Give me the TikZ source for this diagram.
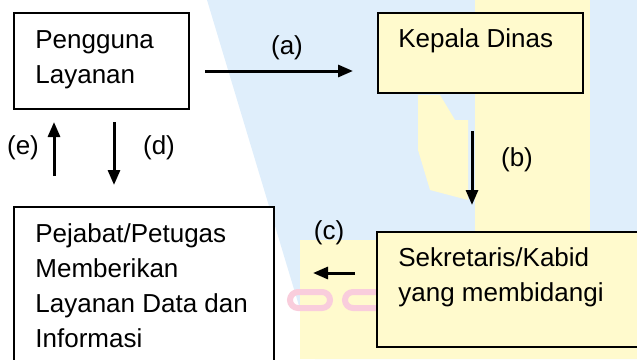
\documentclass[tikz,border=0pt]{standalone}
\usepackage{fontspec}
\setmainfont{Liberation Sans}
\usetikzlibrary{arrows.meta}
\definecolor{wmblue}{HTML}{DFEEFB}
\definecolor{wmyellow}{HTML}{FFFACD}
\definecolor{wmpink}{HTML}{F9CDDC}
\begin{document}
\begin{tikzpicture}
[x=.5pt,y=-.5pt, box/.style={draw,line width=1pt,anchor=north west,inner sep=0pt},
txt/.style={anchor=base west,inner sep=0pt,align=left,font=\fontsize{13}{17.5}\selectfont},
lab/.style={inner sep=0pt,font=\fontsize{13}{17.5}\selectfont},
arr/.style={line width=1.5pt,-{Triangle[length=7.5pt,width=6pt]}}]
\useasboundingbox (0,0) rectangle (637,359);\clip (0,0) rectangle (637,359);
% watermark
\fill[wmblue](207,0)--(637,0)--(637,359)--(315,359)--cycle;
\fill[wmyellow](475,0) rectangle (590,359);\fill[wmyellow](300,240) rectangle (637,359);
\fill[wmyellow](418,95)--(440,95)--(455,120)--(468,120)--(468,200)--(430,190)--(418,150)--cycle;
\draw[wmpink,line width=3pt,rounded corners=4pt](290,292) rectangle ++(40,16);\draw[wmpink,line width=3pt,rounded corners=4pt](345,292) rectangle ++(40,16);
\draw[wmpink,line width=3pt,rounded corners=4pt](500,292) rectangle ++(40,16);\draw[wmpink,line width=3pt,rounded corners=4pt](560,292) rectangle ++(40,16);
% boxes
\node(p) at (13,12)[box,fill=white,minimum width=87.5pt,minimum height=48pt]{};
\node(k) at (377,12)[box,fill=wmyellow,minimum width=102.5pt,minimum height=40pt]{};
\node(s) at (376,231)[box,fill=wmyellow,minimum width=142pt,minimum height=57.5pt]{};
\node(j) at (13,206)[box,fill=white,minimum width=130pt,minimum height=87pt]{};
% base = last line
\node(pt) at (35,83)[txt]{Pengguna\\Layanan};\node(kt) at (398,47)[txt]{Kepala Dinas};
\node(st) at (398,301)[txt]{Sekretaris/Kabid\\yang membidangi};
\node(jt) at (35,347)[txt]{Pejabat/Petugas\\Memberikan\\Layanan Data dan\\Informasi};
% arrows
\coordinate(a1) at (205,71);\coordinate(a2) at (353,71);\coordinate(b1) at (472,131);\coordinate(b2) at (472,205);
\coordinate(c1) at (355,273);\coordinate(c2) at (313,273);\coordinate(d1) at (114,122);\coordinate(d2) at (114,185);
\coordinate(e1) at (54,176);\coordinate(e2) at (54,122);
\draw[arr](a1)--(a2);\draw[arr](b1)--(b2);\draw[arr](c1)--(c2);\draw[arr](d1)--(d2);\draw[arr](e1)--(e2);
\node(la) at (287,48)[lab]{(a)};\node(lb) at (517,160)[lab]{(b)};\node(lc) at (329,233)[lab]{(c)};
\node(ld) at (159,148)[lab]{(d)};\node(le) at (23,148)[lab]{(e)};
\end{tikzpicture}
\end{document}
